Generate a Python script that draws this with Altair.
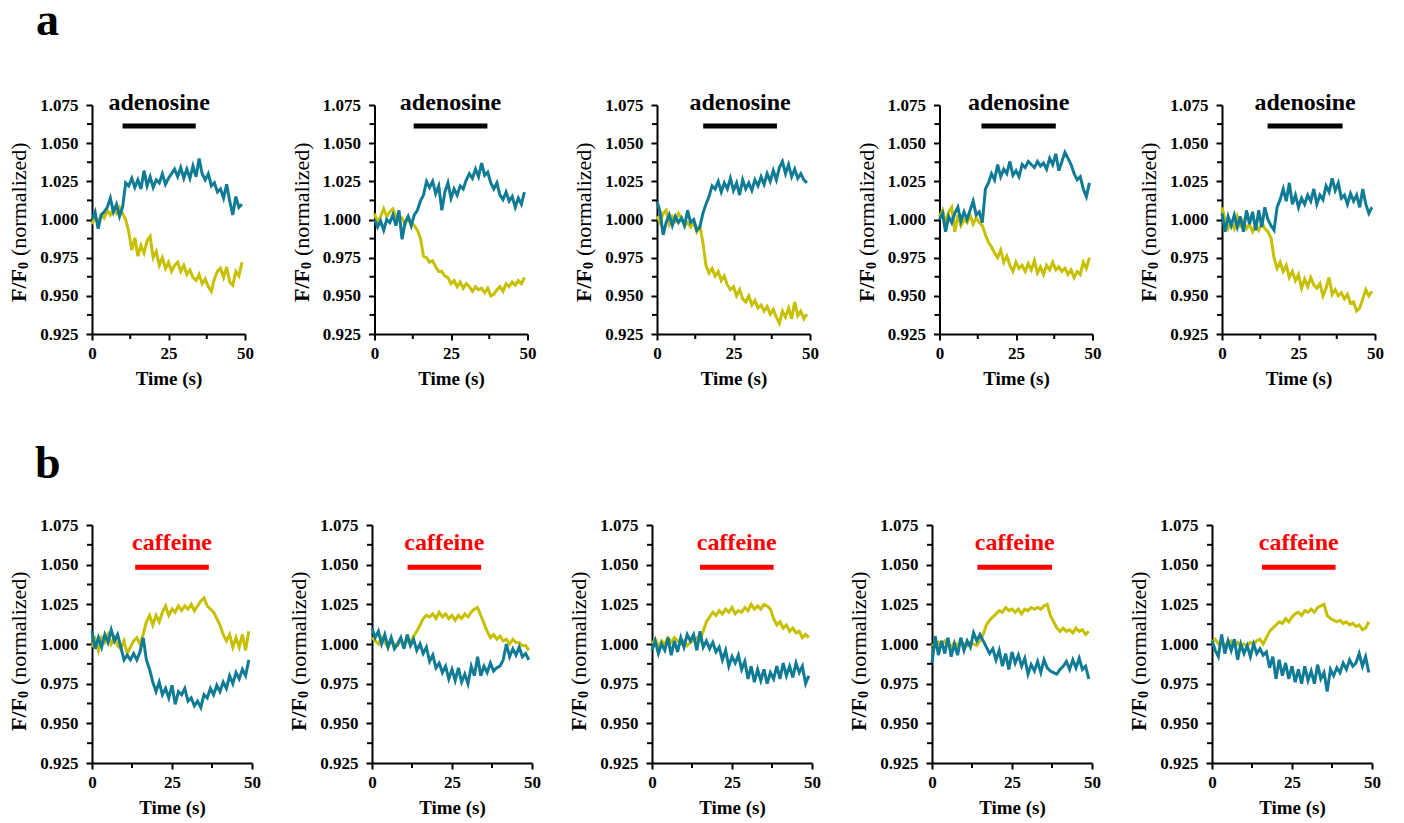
import altair as alt
import pandas as pd

# ---------------- data ----------------
TIME_S = list(range(50))

DRUG_A = "adenosine"
DRUG_B = "caffeine"
A_START = [10.0, 12.8, 15.1, 13.7, 14.9]
A_END = [33.9, 36.9, 39.2, 38.0, 39.4]
B_START = [13.5, 11.1, 15.0, 14.2, 15.6]
B_END = [36.5, 34.1, 38.0, 37.5, 38.6]

A1_TEAL = [1.000, 1.005, 0.994, 1.003, 1.005, 1.008, 1.014, 1.005, 1.010, 1.002,
           1.008, 1.024, 1.022, 1.027, 1.021, 1.026, 1.020, 1.032, 1.022, 1.028,
           1.021, 1.026, 1.024, 1.030, 1.023, 1.027, 1.030, 1.033, 1.028, 1.034,
           1.027, 1.033, 1.027, 1.035, 1.028, 1.040, 1.030, 1.026, 1.030, 1.022,
           1.024, 1.018, 1.020, 1.014, 1.023, 1.012, 1.003, 1.015, 1.008, 1.010]
A1_YELLOW = [0.997, 1.002, 0.998, 1.003, 1.001, 1.006, 1.003, 1.007, 1.004, 1.008,
             1.004, 1.000, 0.992, 0.980, 0.988, 0.976, 0.983, 0.978, 0.986, 0.989,
             0.975, 0.979, 0.970, 0.975, 0.968, 0.972, 0.966, 0.970, 0.972, 0.966,
             0.970, 0.964, 0.967, 0.962, 0.960, 0.964, 0.958, 0.961, 0.956, 0.953,
             0.961, 0.966, 0.968, 0.962, 0.969, 0.959, 0.957, 0.966, 0.963, 0.972]

A2_TEAL = [1.000, 0.995, 0.999, 0.993, 1.000, 0.998, 1.003, 0.996, 1.006, 0.987,
           0.998, 1.002, 0.996, 1.003, 1.006, 1.012, 1.016, 1.025, 1.021, 1.025,
           1.017, 1.022, 1.006, 1.018, 1.024, 1.014, 1.020, 1.016, 1.022, 1.020,
           1.026, 1.030, 1.027, 1.033, 1.028, 1.037, 1.029, 1.031, 1.024, 1.020,
           1.024, 1.016, 1.013, 1.018, 1.012, 1.015, 1.008, 1.014, 1.010, 1.018]
A2_YELLOW = [1.004, 0.998, 1.002, 1.007, 1.002, 1.005, 1.007, 1.002, 1.000, 1.001,
             0.997, 1.001, 0.998, 0.996, 0.993, 0.988, 0.976, 0.975, 0.972, 0.973,
             0.969, 0.966, 0.966, 0.963, 0.962, 0.958, 0.960, 0.956, 0.959, 0.955,
             0.958, 0.956, 0.953, 0.956, 0.954, 0.955, 0.952, 0.955, 0.950, 0.951,
             0.954, 0.956, 0.953, 0.958, 0.956, 0.959, 0.957, 0.960, 0.958, 0.962]

A3_TEAL = [1.012, 1.005, 0.990, 0.998, 1.003, 0.996, 1.002, 0.998, 1.001, 0.996,
           1.006, 0.998, 1.000, 0.993, 0.995, 1.004, 1.010, 1.015, 1.022, 1.020,
           1.025, 1.018, 1.024, 1.020, 1.027, 1.019, 1.024, 1.016, 1.026, 1.020,
           1.024, 1.019, 1.026, 1.022, 1.028, 1.023, 1.030, 1.025, 1.032, 1.026,
           1.034, 1.038, 1.030, 1.036, 1.028, 1.033, 1.027, 1.030, 1.026, 1.024]
A3_YELLOW = [1.002, 0.998, 1.004, 1.006, 0.997, 1.002, 0.999, 1.004, 1.001, 0.996,
             0.998, 0.995, 0.998, 0.992, 0.996, 0.985, 0.970, 0.965, 0.968, 0.963,
             0.966, 0.960, 0.963, 0.957, 0.954, 0.956, 0.950, 0.954, 0.948, 0.946,
             0.950, 0.944, 0.947, 0.942, 0.944, 0.940, 0.943, 0.938, 0.941, 0.936,
             0.932, 0.940, 0.936, 0.942, 0.935, 0.946, 0.937, 0.940, 0.935, 0.938]

A4_TEAL = [1.000, 1.004, 0.992, 1.002, 0.998, 1.004, 1.008, 0.999, 1.005, 1.000,
           1.006, 1.012, 1.003, 1.005, 0.998, 1.020, 1.024, 1.030, 1.026, 1.036,
           1.028, 1.033, 1.030, 1.038, 1.029, 1.032, 1.028, 1.036, 1.034, 1.038,
           1.036, 1.034, 1.038, 1.035, 1.037, 1.033, 1.040, 1.036, 1.043, 1.032,
           1.038, 1.044, 1.040, 1.036, 1.030, 1.026, 1.028, 1.020, 1.015, 1.024]
A4_YELLOW = [1.002, 1.006, 0.998, 1.005, 1.008, 0.992, 1.003, 0.996, 1.000, 0.998,
             1.003, 0.997, 1.001, 0.998, 0.996, 0.990, 0.985, 0.982, 0.978, 0.975,
             0.980, 0.972, 0.976, 0.970, 0.966, 0.972, 0.968, 0.970, 0.966, 0.971,
             0.967, 0.973, 0.965, 0.969, 0.964, 0.970, 0.967, 0.972, 0.967, 0.969,
             0.966, 0.968, 0.964, 0.967, 0.962, 0.966, 0.964, 0.972, 0.968, 0.975]

A5_TEAL = [1.004, 0.992, 1.002, 0.996, 1.003, 0.995, 1.002, 0.992, 1.006, 0.997,
           1.005, 0.993, 1.006, 0.995, 1.008, 1.000, 0.996, 0.993, 1.008, 1.013,
           1.020, 1.012, 1.024, 1.010, 1.016, 1.008, 1.014, 1.010, 1.016, 1.012,
           1.020, 1.010, 1.016, 1.013, 1.022, 1.018, 1.027, 1.019, 1.024, 1.014,
           1.016, 1.010, 1.017, 1.012, 1.016, 1.008, 1.020, 1.010, 1.004, 1.008]
A5_YELLOW = [1.008, 1.000, 0.994, 0.998, 0.994, 1.002, 0.996, 0.999, 0.994, 0.997,
             0.992, 0.996, 0.993, 0.998, 0.994, 0.992, 0.988, 0.975, 0.968, 0.972,
             0.966, 0.970, 0.962, 0.966, 0.960, 0.964, 0.955, 0.961, 0.956, 0.962,
             0.957, 0.955, 0.958, 0.950, 0.955, 0.962, 0.951, 0.954, 0.950, 0.952,
             0.948, 0.951, 0.945, 0.946, 0.940, 0.942, 0.948, 0.954, 0.950, 0.953]

B1_TEAL = [1.008, 0.997, 1.004, 0.998, 1.006, 1.001, 1.009, 1.002, 1.006, 0.998,
           0.990, 0.993, 0.990, 0.994, 0.990, 0.995, 1.004, 0.990, 0.984, 0.976,
           0.970, 0.976, 0.968, 0.972, 0.966, 0.974, 0.962, 0.970, 0.968, 0.972,
           0.964, 0.966, 0.961, 0.964, 0.960, 0.968, 0.966, 0.972, 0.968, 0.974,
           0.970, 0.976, 0.972, 0.980, 0.975, 0.982, 0.978, 0.984, 0.980, 0.990]
B1_YELLOW = [0.998, 1.003, 0.996, 1.004, 1.001, 1.006, 1.000, 1.004, 0.999, 0.997,
             1.002, 0.994, 0.998, 1.002, 1.004, 1.000, 1.006, 1.014, 1.018, 1.012,
             1.018, 1.014, 1.020, 1.024, 1.018, 1.022, 1.020, 1.024, 1.021, 1.024,
             1.022, 1.025, 1.021, 1.024, 1.027, 1.029, 1.024, 1.022, 1.020, 1.016,
             1.012, 1.006, 1.002, 1.006, 0.998, 1.004, 0.998, 1.006, 0.996, 1.008]

B2_TEAL = [1.010, 1.004, 1.008, 1.000, 1.006, 0.998, 1.004, 0.997, 1.000, 1.004,
           0.997, 1.006, 0.999, 1.003, 0.996, 1.000, 0.994, 0.998, 0.989, 0.993,
           0.985, 0.988, 0.982, 0.986, 0.978, 0.984, 0.977, 0.985, 0.976, 0.981,
           0.975, 0.986, 0.980, 0.992, 0.980, 0.986, 0.982, 0.988, 0.983, 0.985,
           0.986, 0.990, 1.000, 0.992, 0.997, 0.993, 0.998, 0.992, 0.994, 0.990]
B2_YELLOW = [1.004, 1.002, 1.000, 1.004, 1.001, 0.998, 1.002, 1.000, 0.999, 1.003,
             0.999, 1.002, 1.001, 1.005, 1.008, 1.012, 1.016, 1.018, 1.017, 1.019,
             1.016, 1.020, 1.017, 1.019, 1.016, 1.018, 1.015, 1.018, 1.016, 1.019,
             1.017, 1.020, 1.022, 1.023, 1.018, 1.013, 1.008, 1.004, 1.006, 1.003,
             1.005, 1.002, 1.003, 1.000, 1.003, 1.001, 1.001, 0.999, 0.999, 0.996]

B3_TEAL = [0.996, 1.002, 0.994, 1.000, 0.996, 1.004, 0.993, 1.002, 0.995, 1.004,
           0.998, 1.006, 1.002, 1.006, 0.996, 1.008, 0.998, 1.002, 0.997, 1.001,
           0.995, 0.998, 0.990, 0.996, 0.986, 0.992, 0.988, 0.993, 0.984, 0.989,
           0.978, 0.986, 0.976, 0.984, 0.977, 0.984, 0.975, 0.982, 0.978, 0.986,
           0.978, 0.988, 0.980, 0.986, 0.979, 0.988, 0.982, 0.986, 0.975, 0.980]
B3_YELLOW = [1.000, 1.003, 0.998, 1.002, 1.000, 1.004, 1.001, 1.004, 1.002, 1.000,
             1.002, 0.999, 1.001, 1.002, 1.004, 1.002, 1.008, 1.014, 1.017, 1.020,
             1.018, 1.021, 1.019, 1.022, 1.020, 1.023, 1.019, 1.021, 1.020, 1.023,
             1.021, 1.025, 1.022, 1.024, 1.022, 1.025, 1.024, 1.022, 1.016, 1.012,
             1.014, 1.010, 1.012, 1.008, 1.010, 1.007, 1.008, 1.004, 1.006, 1.004]

B4_TEAL = [0.988, 1.005, 0.993, 1.002, 0.994, 1.004, 0.992, 1.000, 0.993, 1.004,
           0.996, 1.002, 0.998, 1.007, 1.002, 1.006, 1.002, 0.998, 0.994, 0.997,
           0.990, 0.996, 0.986, 0.994, 0.984, 0.995, 0.988, 0.993, 0.986, 0.991,
           0.981, 0.987, 0.983, 0.989, 0.982, 0.990, 0.985, 0.983, 0.982, 0.981,
           0.984, 0.986, 0.989, 0.984, 0.990, 0.985, 0.991, 0.984, 0.986, 0.978]
B4_YELLOW = [1.000, 0.998, 1.001, 0.999, 1.002, 1.000, 0.998, 1.001, 0.999, 1.002,
             1.000, 0.999, 1.001, 1.000, 0.999, 1.002, 1.006, 1.012, 1.015, 1.017,
             1.019, 1.021, 1.020, 1.023, 1.021, 1.022, 1.020, 1.022, 1.019, 1.022,
             1.021, 1.023, 1.022, 1.023, 1.022, 1.024, 1.025, 1.018, 1.014, 1.010,
             1.008, 1.010, 1.008, 1.009, 1.007, 1.010, 1.008, 1.009, 1.006, 1.008]

B5_TEAL = [1.002, 0.996, 0.992, 1.006, 0.994, 1.002, 0.996, 1.003, 0.990, 1.000,
           0.994, 0.999, 0.992, 1.000, 0.994, 0.997, 0.993, 0.995, 0.985, 0.992,
           0.978, 0.990, 0.980, 0.988, 0.978, 0.986, 0.976, 0.984, 0.975, 0.986,
           0.977, 0.983, 0.975, 0.987, 0.978, 0.982, 0.970, 0.984, 0.980, 0.985,
           0.982, 0.988, 0.984, 0.990, 0.986, 0.988, 0.994, 0.986, 0.992, 0.982]
B5_YELLOW = [1.001, 1.003, 1.000, 1.002, 0.999, 1.001, 1.002, 0.999, 1.001, 0.998,
             1.000, 0.999, 1.001, 1.000, 1.002, 1.003, 1.000, 1.004, 1.008, 1.010,
             1.012, 1.014, 1.013, 1.016, 1.014, 1.017, 1.019, 1.020, 1.018, 1.021,
             1.020, 1.022, 1.020, 1.023, 1.024, 1.025, 1.018, 1.016, 1.015, 1.014,
             1.015, 1.013, 1.014, 1.012, 1.013, 1.011, 1.012, 1.009, 1.010, 1.014]

X_MAJOR = [0, 25, 50]
X_MINOR = [12.5, 37.5]
Y_MAJOR = [0.925, 0.950, 0.975, 1.000, 1.025, 1.050, 1.075]
Y_MINOR = [0.9375, 0.9625, 0.9875, 1.0125, 1.0375, 1.0625]

# ---------------- styling ----------------
TEAL = "#0F7B95"
YELLOW = "#C6C000"
SERIF = "Liberation Serif"


def panel(teal, yellow, drug, drug_color, start, end, w, h,
          bar_y, title_y, title_px, letter=None, letter_px=None):
    df = pd.DataFrame({"t": TIME_S, "teal": teal, "yellow": yellow})
    xs = alt.Scale(domain=[0, 50], nice=False)
    ys = alt.Scale(domain=[0.925, 1.075], nice=False, zero=False)
    xax = alt.Axis(values=X_MAJOR, tickCount=20, format="d", title="Time (s)",
                   labelOverlap=False, labelFlush=False)
    yax = alt.Axis(values=Y_MAJOR, tickCount=20, format=".3f", title=None,
                   labelOverlap=False, labelFlush=False)
    base = alt.Chart(df)
    yl = base.mark_line(color=YELLOW, strokeWidth=3).encode(
        x=alt.X("t:Q", scale=xs, axis=xax),
        y=alt.Y("yellow:Q", scale=ys, axis=yax))
    tl = base.mark_line(color=TEAL, strokeWidth=3).encode(
        x=alt.X("t:Q", scale=xs, axis=xax),
        y=alt.Y("teal:Q", scale=ys, axis=yax))

    # minor ticks (between the labelled ones)
    ymin = alt.Chart(pd.DataFrame({"v": Y_MINOR})).mark_rule(color="black", strokeWidth=2).encode(
        y=alt.Y("v:Q", scale=ys, axis=yax), x=alt.value(-5), x2=alt.value(0))
    xmin = alt.Chart(pd.DataFrame({"v": X_MINOR})).mark_rule(color="black", strokeWidth=2).encode(
        x=alt.X("v:Q", scale=xs, axis=xax), y=alt.value(h), y2=alt.value(h + 5))

    ddf = pd.DataFrame({"start": [start], "end": [end], "drug": [drug]})
    bar = alt.Chart(ddf).mark_rule(color=drug_color, strokeWidth=5).encode(
        x=alt.X("start:Q", scale=xs, axis=xax), x2="end:Q", y=alt.datum(bar_y))
    txt = alt.Chart(ddf).transform_calculate(mid="(datum.start + datum.end) / 2").mark_text(
        color=drug_color, font=SERIF, fontSize=24, fontWeight="bold", baseline="alphabetic"
    ).encode(x=alt.X("mid:Q", scale=xs, axis=xax), y=alt.datum(title_y), text="drug:N")

    one = pd.DataFrame({"k": [0]})
    tx, ty = title_px
    t1 = alt.Chart(one).mark_text(text="F/F", angle=270, align="left", baseline="middle",
                                  font=SERIF, fontSize=22, fontWeight="bold", color="black"
                                  ).encode(x=alt.value(tx), y=alt.value(ty))
    t2 = alt.Chart(one).mark_text(text="0", angle=270, align="left", baseline="middle",
                                  font=SERIF, fontSize=14, fontWeight="bold", color="black"
                                  ).encode(x=alt.value(tx + 5), y=alt.value(ty - 33))
    t3 = alt.Chart(one).mark_text(text="(normalized)", angle=270, align="left", baseline="middle",
                                  font=SERIF, fontSize=22, color="black"
                                  ).encode(x=alt.value(tx), y=alt.value(ty - 46))
    layers = [yl, tl, ymin, xmin, bar, txt, t1, t2, t3]
    if letter is not None:
        lx, ly = letter_px
        lt = alt.Chart(one).mark_text(text=letter, align="left", baseline="alphabetic",
                                      font=SERIF, fontSize=46, fontWeight="bold", color="black"
                                      ).encode(x=alt.value(lx), y=alt.value(ly))
        layers.append(lt)
    return alt.layer(*layers).properties(width=w, height=h)


rows_a = [(A1_TEAL, A1_YELLOW), (A2_TEAL, A2_YELLOW), (A3_TEAL, A3_YELLOW),
          (A4_TEAL, A4_YELLOW), (A5_TEAL, A5_YELLOW)]
rows_b = [(B1_TEAL, B1_YELLOW), (B2_TEAL, B2_YELLOW), (B3_TEAL, B3_YELLOW),
          (B4_TEAL, B4_YELLOW), (B5_TEAL, B5_YELLOW)]

panels_a = []
for i, (tt, yy) in enumerate(rows_a):
    panels_a.append(panel(tt, yy, DRUG_A, "black", A_START[i], A_END[i], 153, 229,
                          1.0612, 1.0717, (-73, 197),
                          letter="a" if i == 0 else None, letter_px=(-56, -70)))
panels_b = []
for i, (tt, yy) in enumerate(rows_b):
    panels_b.append(panel(tt, yy, DRUG_B, "red", B_START[i], B_END[i], 160, 238,
                          1.0484, 1.059, (-73, 206),
                          letter="b" if i == 0 else None, letter_px=(-57, -47)))

row_a = alt.hconcat(*panels_a, spacing=129.5, bounds="flush")
row_b = alt.hconcat(*panels_b, spacing=120, bounds="flush")

chart = alt.vconcat(row_a, row_b, spacing=53).properties(
    padding={"left": 0, "top": -10, "right": 5, "bottom": 5}
).configure_view(stroke=None).configure_axis(
    grid=False,
    domainColor="black", domainWidth=2,
    tickColor="black", tickWidth=2, tickSize=6,
    labelFont=SERIF, labelFontSize=17, labelFontWeight="bold", labelColor="black",
    labelPadding=8, labelFlush=False, labelOverlap=False,
    titleFont=SERIF, titleFontSize=19, titleFontWeight="bold", titleColor="black",
    titlePadding=7,
).configure_axisX(labelPadding=5, titlePadding=8)

chart.save("out.html", embed_options={"renderer": "svg", "actions": False})
